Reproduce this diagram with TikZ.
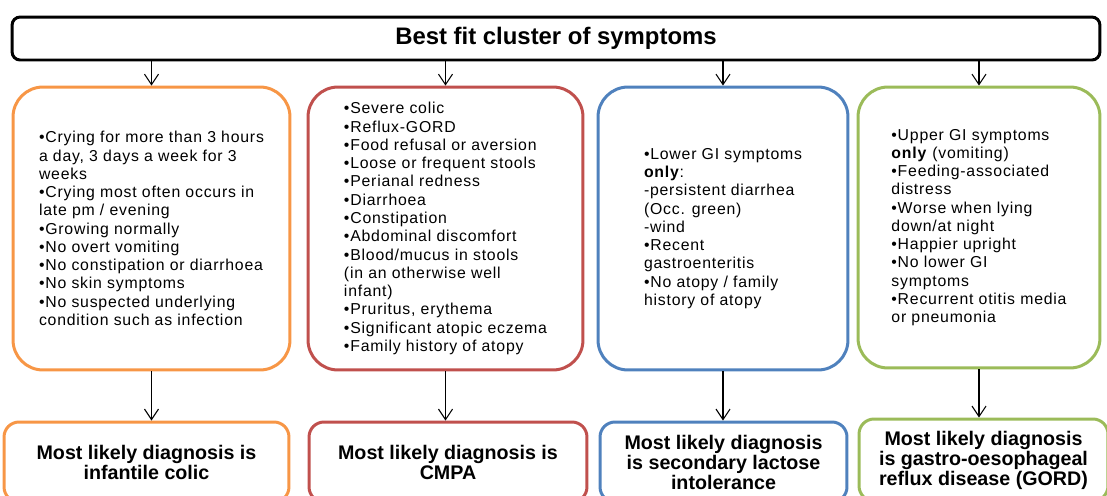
\documentclass[tikz,border=0pt]{standalone}
\usepackage{fontspec}
\setmainfont{Liberation Sans}
\newfontfamily\spacedfont[LetterSpace=5]{Liberation Sans}
\usetikzlibrary{arrows.meta}
\definecolor{colicorange}{HTML}{F79646}
\definecolor{cmpared}{HTML}{C0504D}
\definecolor{lactoseblue}{HTML}{4F81BD}
\definecolor{gordgreen}{HTML}{9BBB59}

\begin{document}
\begin{tikzpicture}[x=0.02cm, y=-0.02cm,
    sympbox/.style={draw, line width=1.7pt, rounded corners=0.6cm, align=left, inner sep=0pt,
        minimum height=5.66cm, font=\spacedfont\fontsize{9}{10.4}\selectfont},
    diagbox/.style={draw, line width=1.7pt, rounded corners=0.3cm, align=center, inner sep=0pt,
        minimum height=1.6cm, font=\bfseries\fontsize{11.2}{11.4}\selectfont},
    link/.style={-{Straight Barb[length=6pt,width=8pt]}, line width=0.6pt}]
    \clip (0,0) rectangle (1107,495);

    % Cluster
    \node[draw, line width=1.7pt, rounded corners=0.16cm, minimum width=21.76cm, minimum height=0.86cm,
        font=\bfseries\fontsize{13.6}{16}\selectfont] (cluster) at (556,38.5) {Best fit cluster of symptoms};

    % Symptoms
    \node[sympbox, draw=colicorange, minimum width=5.54cm] (colic) at (151.5,228.5)
        {•Crying for more than 3 hours\\a day, 3 days a week for 3\\weeks\\•Crying most often occurs in\\late pm / evening\\•Growing normally\\•No overt vomiting\\•No constipation or diarrhoea\\•No skin symptoms\\•No suspected underlying\\condition such as infection};
    \node[sympbox, draw=cmpared, minimum width=5.5cm] (cmpa) at (445.5,228.5)
        {•Severe colic\\•Reflux-GORD\\•Food refusal or aversion\\•Loose or frequent stools\\•Perianal redness\\•Diarrhoea\\•Constipation\\•Abdominal discomfort\\•Blood/mucus in stools\\(in an otherwise well\\infant)\\•Pruritus, erythema\\•Significant atopic eczema\\•Family history of atopy};
    \node[sympbox, draw=lactoseblue, minimum width=5cm] (lactose) at (723,228.5)
        {•Lower GI symptoms\\\textbf{only}:\\-persistent diarrhea\\(Occ. green)\\-wind\\•Recent\\gastroenteritis\\•No atopy / family\\history of atopy};
    \node[sympbox, draw=gordgreen, minimum width=4.84cm, minimum height=5.62cm] (gord) at (979,227.5)
        {•Upper GI symptoms\\\textbf{only} (vomiting)\\•Feeding-associated\\distress\\•Worse when lying\\down/at night\\•Happier upright\\•No lower GI\\symptoms\\•Recurrent otitis media\\or pneumonia};

    % Diagnoses
    \node[diagbox, draw=colicorange, minimum width=5.7cm] (dcolic) at (146.5,462)
        {Most likely diagnosis is\\infantile colic};
    \node[diagbox, draw=cmpared, minimum width=5.56cm] (dcmpa) at (448,462)
        {Most likely diagnosis is\\CMPA};
    \node[diagbox, draw=lactoseblue, minimum width=4.94cm] (dlactose) at (723.5,462)
        {Most likely diagnosis\\is secondary lactose\\intolerance};
    \node[diagbox, draw=gordgreen, minimum width=4.98cm, minimum height=1.64cm] (dgord) at (983.5,460)
        {Most likely diagnosis\\is gastro-oesophageal\\reflux disease (GORD)};

    % Arrows
    \foreach \s in {colic, cmpa, lactose, gord} {
        \draw[link] (cluster.south -| \s.north) -- (\s.north);
        \draw[link] (\s.south) -- (\s.south |- d\s.north);
    }
\end{tikzpicture}
\end{document}
